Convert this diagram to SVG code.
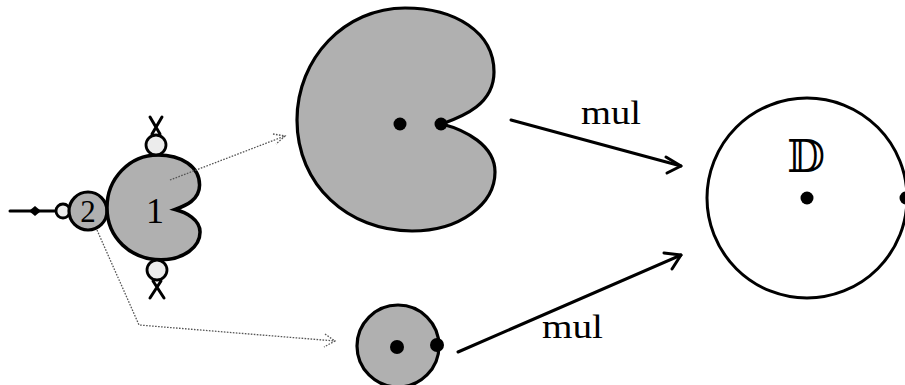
<svg xmlns="http://www.w3.org/2000/svg" width="905" height="385" viewBox="0 0 905 385">
<style>
.shade{fill:#b0b0b0;stroke:#000}
.light{fill:#ececec;stroke:#000;stroke-width:2.8}
.ink{fill:none;stroke:#000;stroke-width:3;stroke-linecap:round;stroke-linejoin:round}
.dot{fill:#000}
.dotted{fill:none;stroke:#555;stroke-width:1.3;stroke-dasharray:1.6 1.4}
.lbl{font-family:"Liberation Serif","DejaVu Serif",serif;fill:#000}
</style>
<defs>
<path id="card" d="M 442,124 C 464,116 494,104 494,72 C 494,32 455,8 405,8 C 345,8 297,58 297,120 C 297,185 348,231 412,231 C 460,231 495,204 495,172 C 495,145 465,130 442,124 Z"/>
</defs>
<rect width="905" height="385" fill="#fff"/>

<g id="mandelbrot">
  <path class="ink" d="M 10,211 L 56,211"/>
  <path d="M 29,211 L 35,206 L 41,211 L 35,216 Z" fill="#000"/>
  <circle class="light" cx="63" cy="211" r="7"/>
  <circle class="shade" cx="88" cy="211" r="19" stroke-width="3.2"/>
  <text class="lbl" x="88" y="222" font-size="31" text-anchor="middle">2</text>
  <use href="#card" class="shade" stroke-width="7.5" transform="translate(-32.6,151.2) scale(0.47)"/>
  <text class="lbl" x="155" y="223" font-size="36" text-anchor="middle">1</text>
  <circle class="light" cx="156" cy="145" r="10"/>
  <path class="ink" d="M 150,117 L 160,134 M 162,117 L 152,134" stroke-width="2.8"/>
  <circle class="light" cx="157" cy="270" r="10"/>
  <path class="ink" d="M 153,281 L 164,298 M 161,281 L 150,298" stroke-width="2.8"/>
</g>

<g id="main-cardioid">
  <use href="#card" class="shade" stroke-width="3.2"/>
  <circle class="dot" cx="400" cy="124" r="6.5"/>
  <circle class="dot" cx="441" cy="124" r="6.5"/>
</g>

<g id="small-disc">
  <circle class="shade" cx="398" cy="346" r="41" stroke-width="3.2"/>
  <circle class="dot" cx="397" cy="347" r="7"/>
  <circle class="dot" cx="437" cy="345" r="7"/>
</g>

<g id="unit-disc">
  <circle cx="807" cy="198" r="100" fill="#fff" stroke="#000" stroke-width="3"/>
  <circle class="dot" cx="807" cy="198" r="6.5"/>
  <circle class="dot" cx="906" cy="198" r="6.5"/>
  <text x="806" y="172" font-size="44" text-anchor="middle" font-family="'DejaVu Serif','DejaVu Sans',serif" fill="#000">𝔻</text>
</g>

<g id="connectors">
  <path class="dotted" d="M 170,180 L 285,136"/>
  <path class="dotted" d="M 273,134 L 285,136 L 276,144"/>
  <path class="dotted" d="M 97,230 L 139,325 L 335,341"/>
  <path class="dotted" d="M 325,334 L 335,341 L 324,347"/>
  <path class="ink" d="M 511,120 L 681,166"/>
  <path class="ink" d="M 666,157 L 681,166 L 667,173"/>
  <path class="ink" d="M 458,352 L 681,255"/>
  <path class="ink" d="M 664,253 L 681,255 L 672,269"/>
  <text class="lbl" x="581" y="124" font-size="33" textLength="60" lengthAdjust="spacingAndGlyphs">mul</text>
  <text class="lbl" x="542" y="338" font-size="33" textLength="61" lengthAdjust="spacingAndGlyphs">mul</text>
</g>
</svg>
